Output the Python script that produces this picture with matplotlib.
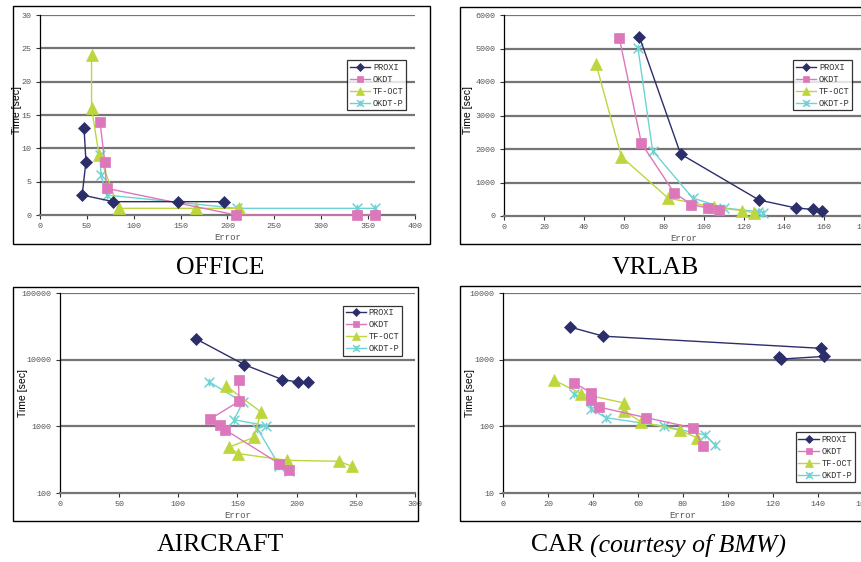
import matplotlib
matplotlib.use("Agg")
import matplotlib.pyplot as plt
from matplotlib.path import Path
from matplotlib.patches import Rectangle

# ---------------- data ----------------
series_names = ["PROXI", "OKDT", "TF-OCT", "OKDT-P"]

office_proxi_x = [47, 49, 45, 78, 147, 196]
office_proxi_y = [13, 8, 3, 2, 2, 2]
office_okdt_x = [64, 69, 71, 209, 338, 357]
office_okdt_y = [14, 8, 4, 0, 0, 0]
office_tfoct_x = [55, 55, 63, 84, 166, 212]
office_tfoct_y = [24, 16, 9, 1, 1, 1]
office_okdtp_x = [64, 65, 71, 210, 338, 357]
office_okdtp_y = [9, 6, 3, 1, 1, 1]

vrlab_proxi_x = [67.7, 88.3, 127.5, 146, 154.3, 159]
vrlab_proxi_y = [5350, 1850, 478, 239, 199, 160]
vrlab_okdt_x = [57.7, 68.7, 85, 93.7, 101.8, 107.7]
vrlab_okdt_y = [5300, 2170, 700, 340, 240, 180]
vrlab_tfoct_x = [46, 58.7, 82, 105, 119, 124.8]
vrlab_tfoct_y = [4540, 1770, 537, 259, 160, 100]
vrlab_okdtp_x = [67, 74.3, 94.3, 110, 127, 129.5]
vrlab_okdtp_y = [5005, 1950, 537, 240, 130, 100]

aircraft_proxi_x = [114.6, 155.8, 188, 201.3, 209.6]
aircraft_proxi_y = [20650, 8414, 5012, 4624, 4624]
aircraft_okdt_x = [150.9, 151.3, 126.5, 135.2, 139.4, 185.4, 193.5]
aircraft_okdt_y = [4898, 2371, 1274, 1035, 891, 275, 224]
aircraft_tfoct_x = [140, 169.9, 163.9, 142.5, 150.7, 192.1, 235.8, 246.8]
aircraft_tfoct_y = [4074, 1641, 684, 484, 389, 309, 299, 251]
aircraft_okdtp_x = [126.2, 154.6, 147, 174.1, 166.8, 185.4, 193.5]
aircraft_okdtp_y = [4624, 2291, 1259, 1023, 923, 257, 211]

car_proxi_x = [29.6, 44.6, 141.3, 142.8, 123.5, 122.8]
car_proxi_y = [3100, 2250, 1480, 1120, 1020, 1080]
car_okdt_x = [31.4, 39.3, 39.3, 42.5, 63.6, 84.4, 89.1]
car_okdt_y = [453, 316, 251, 195, 135, 95, 50]
car_tfoct_x = [22.8, 34.8, 53.8, 53.8, 61.5, 78.5, 86.4]
car_tfoct_y = [490, 309, 224, 170, 116, 87.5, 67]
car_okdtp_x = [31.4, 39, 39, 45.6, 71.6, 89.9, 94.4]
car_okdtp_y = [309, 240, 185, 135, 100, 74, 52]

office_yticks = [0, 5, 10, 15, 20, 25, 30]
office_xticks = [0, 50, 100, 150, 200, 250, 300, 350, 400]
vrlab_yticks = [0, 1000, 2000, 3000, 4000, 5000, 6000]
vrlab_xticks = [0, 20, 40, 60, 80, 100, 120, 140, 160, 180]
aircraft_yticks = [100, 1000, 10000, 100000]
aircraft_xticks = [0, 50, 100, 150, 200, 250, 300]
car_yticks = [10, 100, 1000, 10000]
car_xticks = [0, 20, 40, 60, 80, 100, 120, 140, 160]

captions = ["OFFICE", "VRLAB", "AIRCRAFT", "CAR"]
car_caption_extra = "(courtesy of BMW)"

# ---------------- style ----------------
W, H = 862, 562
fig = plt.figure(figsize=(W / 100, H / 100), dpi=100)
fig.patch.set_facecolor("white")

mono = "Liberation Mono"
colors = ["#2C2E6A", "#DD77BB", "#BED63E", "#6FD3D3"]
star = Path([(-1, -1), (1, 1), (-1, 1), (1, -1), (0, -0.8), (0, 0.8)],
            [Path.MOVETO, Path.LINETO, Path.MOVETO, Path.LINETO, Path.MOVETO, Path.LINETO])
markers = ["D", "s", "^", star]
msizes = [6.3, 7, 8, 7]


def px_axes(l, r, t, b):
    return fig.add_axes([l / W, 1 - b / H, (r - l) / W, (b - t) / H])


def frame(l, t, r, b):
    fig.patches.append(Rectangle((l / W, 1 - b / H), (r - l) / W, (b - t) / H,
                                 transform=fig.transFigure, fill=False,
                                 edgecolor="black", lw=1.0, zorder=0))


def panel(ax, data, xlim, xticks, yticks, log, legend_anchor, ylabel_x, ylabel_y):
    for i, (xs, ys) in enumerate(data):
        ax.plot(xs, ys, color=colors[i], lw=1.0, marker=markers[i], ms=msizes[i],
                mfc=colors[i], mec=colors[i], mew=1.1 if i == 3 else 0.5,
                label=series_names[i], zorder=3 + (3 - i) * 0.1, clip_on=False)
    if log:
        ax.set_yscale("log")
    ax.set_xlim(*xlim)
    ax.set_ylim(yticks[0], yticks[-1])
    ax.set_xticks(xticks)
    ax.set_yticks(yticks)
    ax.minorticks_off()
    ax.set_xticklabels([str(v) for v in xticks])
    ax.set_yticklabels([str(v) for v in yticks])
    for v in yticks[1:]:
        ax.axhline(v, color="#757575", lw=1.6, zorder=1)
    for s in ["top", "right"]:
        ax.spines[s].set_visible(False)
    ax.spines["left"].set_color("black")
    ax.spines["left"].set_linewidth(0.9)
    ax.spines["bottom"].set_color("#757575")
    ax.spines["bottom"].set_linewidth(1.6)
    ax.tick_params(axis="both", labelsize=6, labelcolor="#555555", length=3,
                   width=0.8, color="#333333", pad=3)
    for lab in ax.get_xticklabels() + ax.get_yticklabels():
        lab.set_fontfamily(mono)
    ax.set_xlabel("Error", fontfamily=mono, fontsize=6.5, color="#555555", labelpad=2)
    ax.set_ylabel("Time [sec]", fontfamily="Liberation Sans", fontsize=7.5,
                  color="black")
    ax.yaxis.set_label_coords(ylabel_x, ylabel_y)
    ax.set_facecolor("none")
    leg = ax.legend(loc="upper left", bbox_to_anchor=legend_anchor, frameon=True,
                    fancybox=False, prop={"family": mono, "size": 6.2},
                    handlelength=2.4, handletextpad=0.3, borderpad=0.3,
                    labelspacing=0.35, borderaxespad=0, markerscale=0.7)
    leg.get_frame().set_edgecolor("black")
    leg.get_frame().set_linewidth(0.9)
    for t in leg.get_texts():
        t.set_color("#333333")


# frames
frame(13, 6, 430, 244)
frame(460, 7, 900, 244)
frame(13, 287, 418, 521)
frame(460, 286, 900, 521)

ax1 = px_axes(40, 415, 15, 215)
panel(ax1, [(office_proxi_x, office_proxi_y), (office_okdt_x, office_okdt_y),
            (office_tfoct_x, office_tfoct_y), (office_okdtp_x, office_okdtp_y)],
      (0, 400), office_xticks, office_yticks, False, (0.819, 0.775), -0.047, 0.525)

ax2 = px_axes(504, 864, 15, 216)
panel(ax2, [(vrlab_proxi_x, vrlab_proxi_y), (vrlab_okdt_x, vrlab_okdt_y),
            (vrlab_tfoct_x, vrlab_tfoct_y), (vrlab_okdtp_x, vrlab_okdtp_y)],
      (0, 180), vrlab_xticks, vrlab_yticks, False, (0.803, 0.776), -0.085, 0.527)

ax3 = px_axes(60, 415, 293, 493)
panel(ax3, [(aircraft_proxi_x, aircraft_proxi_y), (aircraft_okdt_x, aircraft_okdt_y),
            (aircraft_tfoct_x, aircraft_tfoct_y), (aircraft_okdtp_x, aircraft_okdtp_y)],
      (0, 300), aircraft_xticks, aircraft_yticks, True, (0.797, 0.937), -0.0915, 0.5)

ax4 = px_axes(503, 863, 293, 493)
panel(ax4, [(car_proxi_x, car_proxi_y), (car_okdt_x, car_okdt_y),
            (car_tfoct_x, car_tfoct_y), (car_okdtp_x, car_okdtp_y)],
      (0, 160), car_xticks, car_yticks, True, (0.813, 0.305), -0.078, 0.5)

serif = "Liberation Serif"
cs = 18.5
fig.text(220 / W, 1 - 268 / H, captions[0], ha="center", va="center", fontsize=cs, fontfamily=serif)
fig.text(655 / W, 1 - 268 / H, captions[1], ha="center", va="center", fontsize=cs, fontfamily=serif)
fig.text(220 / W, 1 - 545 / H, captions[2], ha="center", va="center", fontsize=cs, fontfamily=serif)
fig.text(584 / W, 1 - 545 / H, captions[3], ha="right", va="center", fontsize=cs, fontfamily=serif)
fig.text(590 / W, 1 - 545 / H, car_caption_extra, ha="left", va="center", fontsize=cs,
         fontfamily=serif, fontstyle="italic")

fig.savefig("out.png", dpi=100)
